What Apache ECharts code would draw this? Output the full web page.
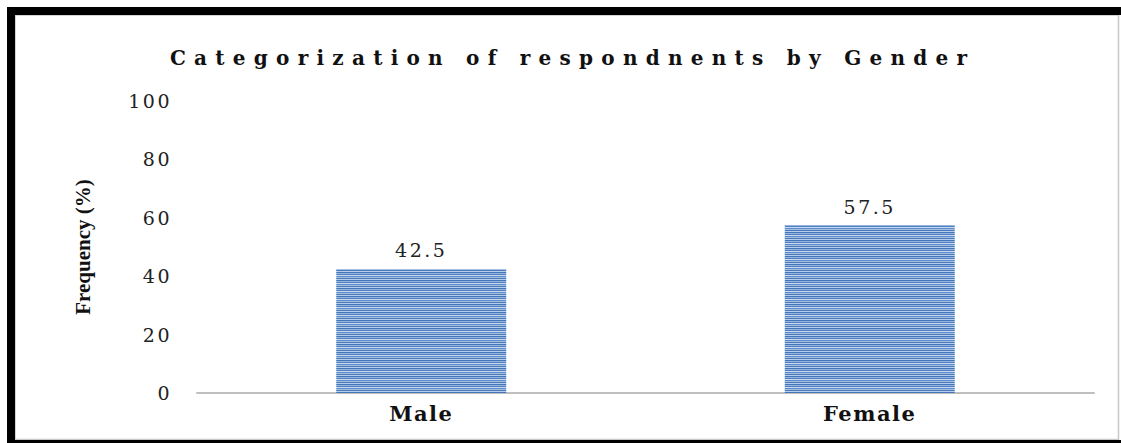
<!DOCTYPE html>
<html>
<head>
<meta charset="utf-8">
<script src="https://cdn.jsdelivr.net/npm/echarts@6/dist/echarts.min.js"></script>
<style>
  html, body { margin: 0; padding: 0; background: #fff; }
  #chart { width: 1121px; height: 443px; }
</style>
</head>
<body>
<div id="chart"></div>
<script>
// Chart texts and values
const TITLE = 'Categorization of respondnents by Gender';
const AXIS_NAME = 'Frequency (%)';
const categories = ['Male', 'Female'];
const frequency = [42.5, 57.5];
const yMin = 0;
const yMax = 100;
const yStep = 20;

const WIDE_SERIF = 'DejaVu Serif';
const TIMES = 'Liberation Serif';

// Title is tracked out so that it spans this many pixels
const TITLE_SPAN = 797;
const TITLE_CENTER = 568.5;
const TITLE_FONT = 'bold 20px "' + WIDE_SERIF + '"';

function trackingFor(text, font, span) {
  const ctx = document.createElement('canvas').getContext('2d');
  ctx.font = font;
  const w = ctx.measureText(text).width;
  return Math.max(0, (span - w) / (text.length - 1));
}
const titleTracking = trackingFor(TITLE, TITLE_FONT, TITLE_SPAN);

// Horizontal blue stripe tile used as the bar fill
function stripeTile() {
  const rows = ['#4576bb', '#94b3dd', '#4f80c2', '#c9d9ef', '#5d89c8', '#a6c0e4', '#4879bd', '#b8cdea'];
  const c = document.createElement('canvas');
  c.width = 4;
  c.height = rows.length;
  const ctx = c.getContext('2d');
  rows.forEach((col, i) => { ctx.fillStyle = col; ctx.fillRect(0, i, 4, 1); });
  return c;
}
const tile = stripeTile();

const chart = echarts.init(document.getElementById('chart'), null, { renderer: 'svg' });

chart.setOption({
  animation: false,
  backgroundColor: '#fff',
  grid: { left: 197, right: 27, top: 101, bottom: 50, containLabel: false },
  xAxis: {
    type: 'category',
    data: categories,
    axisLine: { show: true, lineStyle: { color: '#bfbfbf', width: 2 } },
    axisTick: { show: false },
    axisLabel: { fontFamily: WIDE_SERIF, fontWeight: 'bold', fontSize: 21, color: '#111', margin: 10 },
    splitLine: { show: false }
  },
  yAxis: {
    type: 'value',
    min: yMin,
    max: yMax,
    interval: yStep,
    name: AXIS_NAME,
    nameLocation: 'middle',
    nameRotate: 90,
    nameGap: 104,
    nameTextStyle: { fontFamily: TIMES, fontWeight: 'bold', fontSize: 21, color: '#111' },
    axisLine: { show: false },
    axisTick: { show: false },
    splitLine: { show: false },
    axisLabel: { fontFamily: WIDE_SERIF, fontSize: 19, color: '#222', margin: 25 }
  },
  series: [{
    type: 'bar',
    data: frequency,
    barWidth: 170,
    silent: true,
    itemStyle: { color: { image: tile, repeat: 'repeat', imageWidth: 4, imageHeight: 8 } },
    label: {
      show: true,
      position: 'top',
      distance: 9,
      fontFamily: WIDE_SERIF,
      fontSize: 19,
      color: '#222'
    }
  }],
  graphic: [
    { type: 'rect', silent: true, shape: { x: 15, y: 15, width: 1103.5, height: 424.5 },
      style: { fill: 'none', stroke: '#c8c8c8', lineWidth: 1.5 } },
    { type: 'rect', silent: true, shape: { x: 7, y: 7, width: 1114, height: 8 }, style: { fill: '#000' } },
    { type: 'rect', silent: true, shape: { x: 7, y: 7, width: 8, height: 436 }, style: { fill: '#000' } },
    { type: 'rect', silent: true, shape: { x: 7, y: 440, width: 1114, height: 3 }, style: { fill: '#000' } },
    { type: 'text', silent: true, x: TITLE_CENTER + titleTracking / 2, y: 58,
      style: { text: TITLE, font: TITLE_FONT, fill: '#111', align: 'center', verticalAlign: 'middle' } }
  ]
});

// Letter tracking on the serif texts
function spaceTexts() {
  document.querySelectorAll('#chart svg text').forEach(t => {
    const s = t.textContent;
    let ls = '2.5px';
    if (s === TITLE) ls = titleTracking.toFixed(2) + 'px';
    else if (s === AXIS_NAME) ls = '0px';
    else if (categories.includes(s)) ls = '1.5px';
    t.style.letterSpacing = ls;
  });
}
spaceTexts();
chart.on('finished', spaceTexts);
requestAnimationFrame(spaceTexts);
</script>
</body>
</html>
